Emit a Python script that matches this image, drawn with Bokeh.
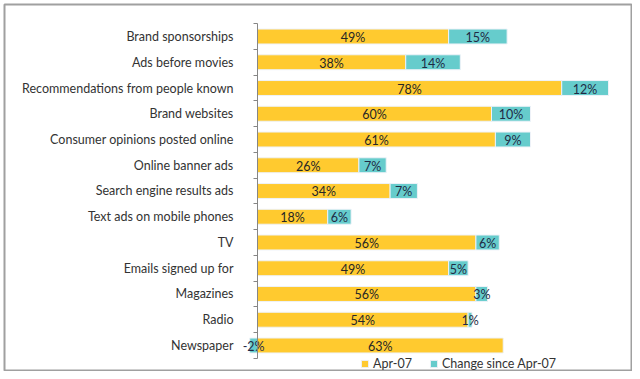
import numpy as np
from bokeh.plotting import figure
from bokeh.models import (ColumnDataSource, Range1d, LinearAxis, FixedTicker,
                          Legend, LegendItem)
from bokeh.core.properties import value
from bokeh.embed import file_html
from bokeh.resources import INLINE

categories = ["Brand sponsorships", "Ads before movies", "Recommendations from people known",
              "Brand websites", "Consumer opinions posted online", "Online banner ads",
              "Search engine results ads", "Text ads on mobile phones", "TV",
              "Emails signed up for", "Magazines", "Radio", "Newspaper"]
apr07 = [49, 38, 78, 60, 61, 26, 34, 18, 56, 49, 56, 54, 63]
change = [15, 14, 12, 10, 9, 7, 7, 6, 6, 5, 3, 1, -2]

FONT = "Lato"
YELLOW = "#FFCA2F"
TEAL = "#66CCCC"

n = len(categories)
y = np.arange(n)
apr = np.array(apr07, dtype=float)
chg = np.array(change, dtype=float)
c_left = np.where(chg >= 0, apr, chg)
c_right = np.where(chg >= 0, apr + chg, 0)

src = ColumnDataSource(dict(
    y=y, apr=apr, zero=np.zeros(n), c_left=c_left, c_right=c_right,
    apr_mid=apr / 2, c_mid=(c_left + c_right) / 2,
    apr_lbl=[f"{int(v)}%" for v in apr07], c_lbl=[f"{int(v)}%" for v in change],
))

p = figure(width=632, height=371, output_backend="svg", toolbar_location=None,
           x_axis_type=None, y_axis_type=None,
           x_range=Range1d(-64.87, 96.15), y_range=Range1d(13.01, -1.243),
           min_border=0, min_border_left=4, min_border_top=4)
p.grid.visible = False
p.outline_line_color = "#A0A0A0"
p.outline_line_width = 2
p.background_fill_color = "white"

r1 = p.hbar(y="y", left="zero", right="apr", height=0.58, source=src,
            fill_color=YELLOW, line_color="#EEF2F8", line_width=1)
r2 = p.hbar(y="y", left="c_left", right="c_right", height=0.58, source=src,
            fill_color=TEAL, line_color="#EEF2F8", line_width=1)

yaxis = LinearAxis(fixed_location=0, bounds=(-0.5, n - 0.5))
yaxis.ticker = FixedTicker(ticks=list(y), minor_ticks=list(np.arange(n + 1) - 0.5))
yaxis.major_label_overrides = {int(i): c for i, c in zip(y, categories)}
yaxis.major_tick_line_color = None
yaxis.minor_tick_out = 4
yaxis.minor_tick_in = 0
yaxis.minor_tick_line_color = "#868686"
yaxis.axis_line_color = "#868686"
yaxis.major_label_standoff = 18
yaxis.major_label_text_font = FONT
yaxis.major_label_text_font_size = "12.5px"
yaxis.major_label_text_color = "#333333"
p.add_layout(yaxis, "left")

p.text(x="apr_mid", y="y", text="apr_lbl", source=src, text_align="center",
       text_baseline="middle", text_font=value(FONT), text_font_size="12.5px",
       text_color="#262626", y_offset=1)
p.text(x="c_mid", y="y", text="c_lbl", source=src, text_align="center",
       text_baseline="middle", text_font=value(FONT), text_font_size="12.5px",
       text_color="#1F2A44", y_offset=1)

legend = Legend(items=[LegendItem(label="Apr-07", renderers=[r1]),
                       LegendItem(label="Change since Apr-07", renderers=[r2])],
                orientation="horizontal", location=(356, 0),
                glyph_width=9, glyph_height=9, label_text_font=FONT,
                label_text_font_size="12.5px", label_text_color="#333333",
                spacing=17, label_standoff=4, padding=2, margin=0,
                border_line_color=None, background_fill_alpha=0)
p.add_layout(legend, "center")

open("out.html", "w").write(file_html(p, INLINE))
